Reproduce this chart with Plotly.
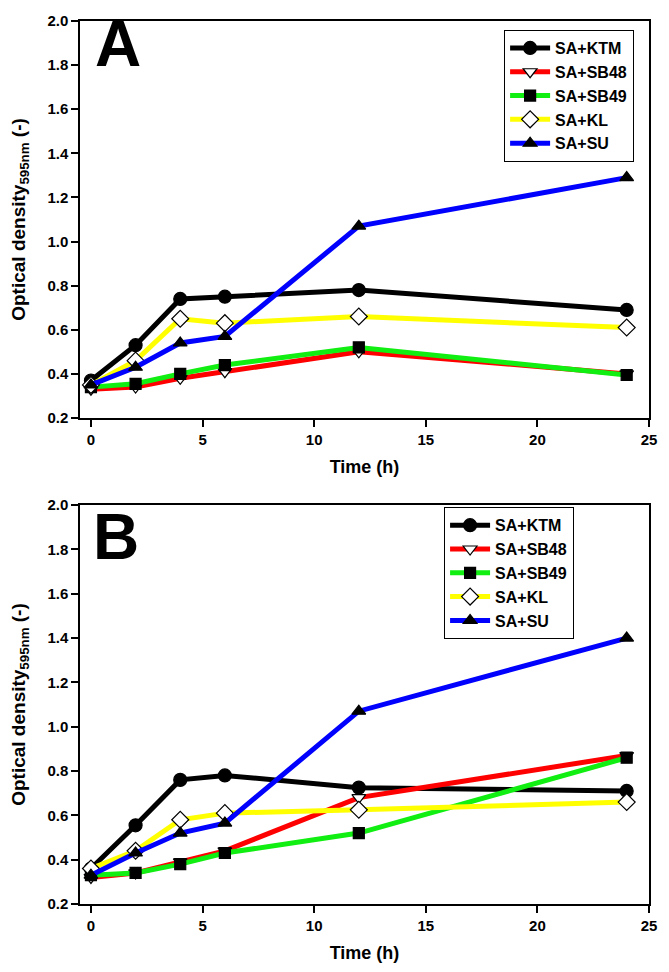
import plotly.graph_objects as go
from plotly.subplots import make_subplots

time_h = [0, 2, 4, 6, 12, 24]
series_names = ["SA+KTM", "SA+SB48", "SA+SB49", "SA+KL", "SA+SU"]

# Panel A
a_ktm = [0.37, 0.53, 0.74, 0.75, 0.78, 0.69]
a_sb48 = [0.33, 0.34, 0.38, 0.41, 0.50, 0.40]
a_sb49 = [0.34, 0.355, 0.40, 0.44, 0.52, 0.395]
a_kl = [0.35, 0.46, 0.65, 0.63, 0.66, 0.61]
a_su = [0.35, 0.43, 0.54, 0.57, 1.07, 1.29]

# Panel B
b_ktm = [0.36, 0.555, 0.76, 0.78, 0.725, 0.71]
b_sb48 = [0.32, 0.34, 0.39, 0.44, 0.68, 0.87]
b_sb49 = [0.33, 0.34, 0.38, 0.43, 0.52, 0.86]
b_kl = [0.36, 0.44, 0.58, 0.61, 0.625, 0.66]
b_su = [0.33, 0.43, 0.52, 0.565, 1.07, 1.40]

line_colors = ["#000000", "#ff0000", "#11ee11", "#ffff00", "#0000ff"]
marker_symbols = ["circle", "triangle-down", "square", "diamond", "triangle-up"]
marker_fill = ["#000000", "#ffffff", "#000000", "#ffffff", "#000000"]
marker_sizes = [13, 12, 11, 13, 12]

FONT = "Liberation Sans"

fig = make_subplots(rows=2, cols=1)

panels = [(1, [a_ktm, a_sb48, a_sb49, a_kl, a_su], "legend"),
          (2, [b_ktm, b_sb48, b_sb49, b_kl, b_su], "legend2")]

for row, data, leg in panels:
    for i, name in enumerate(series_names):
        fig.add_trace(go.Scatter(
            x=time_h, y=data[i], name=name, mode="lines+markers",
            line=dict(color=line_colors[i], width=5),
            marker=dict(symbol=marker_symbols[i], size=marker_sizes[i],
                        color=marker_fill[i],
                        line=dict(color="#000000", width=1.2)),
            legend=leg,
        ), row=row, col=1)

axis_font = dict(family=FONT, size=15, color="#000000", weight="bold")
title_font = dict(family=FONT, size=18, color="#000000", weight="bold")
ytitle_font = dict(family=FONT, size=19, color="#000000", weight="bold")

for row in (1, 2):
    fig.update_xaxes(range=[-0.49, 25], tickvals=[0, 5, 10, 15, 20, 25],
                     ticks="outside", ticklen=7, tickwidth=1.5, tickcolor="#000",
                     showline=True, linecolor="#000", linewidth=1.5, mirror=True,
                     showgrid=False, zeroline=False, tickfont=axis_font,
                     title=dict(text="Time (h)", font=title_font, standoff=14),
                     row=row, col=1)
    fig.update_yaxes(range=[0.2, 2.0], tickvals=[0.2, 0.4, 0.6, 0.8, 1.0, 1.2, 1.4, 1.6, 1.8, 2.0],
                     tickformat=".1f",
                     ticks="outside", ticklen=7, tickwidth=1.5, tickcolor="#000",
                     showline=True, linecolor="#000", linewidth=1.5, mirror=True,
                     showgrid=False, zeroline=False, tickfont=axis_font,
                     title=dict(text="Optical density<sub>595nm</sub> (-)",
                                font=ytitle_font, standoff=17),
                     row=row, col=1)

fig.update_layout(
    width=669, height=972,
    margin=dict(l=80, r=12, t=13, b=67),
    paper_bgcolor="#ffffff", plot_bgcolor="#ffffff",
    font=dict(family=FONT, color="#000000"),
    yaxis=dict(domain=[0.5504, 1.0]),
    yaxis2=dict(domain=[0.0, 0.4518]),
    legend=dict(x=0.745, y=0.99, xanchor="left", yanchor="top",
                bordercolor="#000", borderwidth=1.2, bgcolor="#ffffff",
                font=dict(family=FONT, size=16, color="#000", weight="bold"),
                tracegroupgap=0, itemwidth=40),
    legend2=dict(x=0.6395, y=0.4495, xanchor="left", yanchor="top",
                 bordercolor="#000", borderwidth=1.2, bgcolor="#ffffff",
                 font=dict(family=FONT, size=16, color="#000", weight="bold"),
                 tracegroupgap=0, itemwidth=40),
    annotations=[
        dict(text="A", x=0.066, y=0.9742, xref="paper", yref="paper",
             xanchor="center", yanchor="middle", showarrow=False,
             font=dict(family=FONT, size=64, color="#000", weight="bold")),
        dict(text="B", x=0.064, y=0.4159, xref="paper", yref="paper",
             xanchor="center", yanchor="middle", showarrow=False,
             font=dict(family=FONT, size=64, color="#000", weight="bold")),
    ],
)

fig.write_html(
    "out.html",
    config={"displayModeBar": False},
    post_script="document.body.style.margin='0';document.body.style.overflow='hidden';",
)
